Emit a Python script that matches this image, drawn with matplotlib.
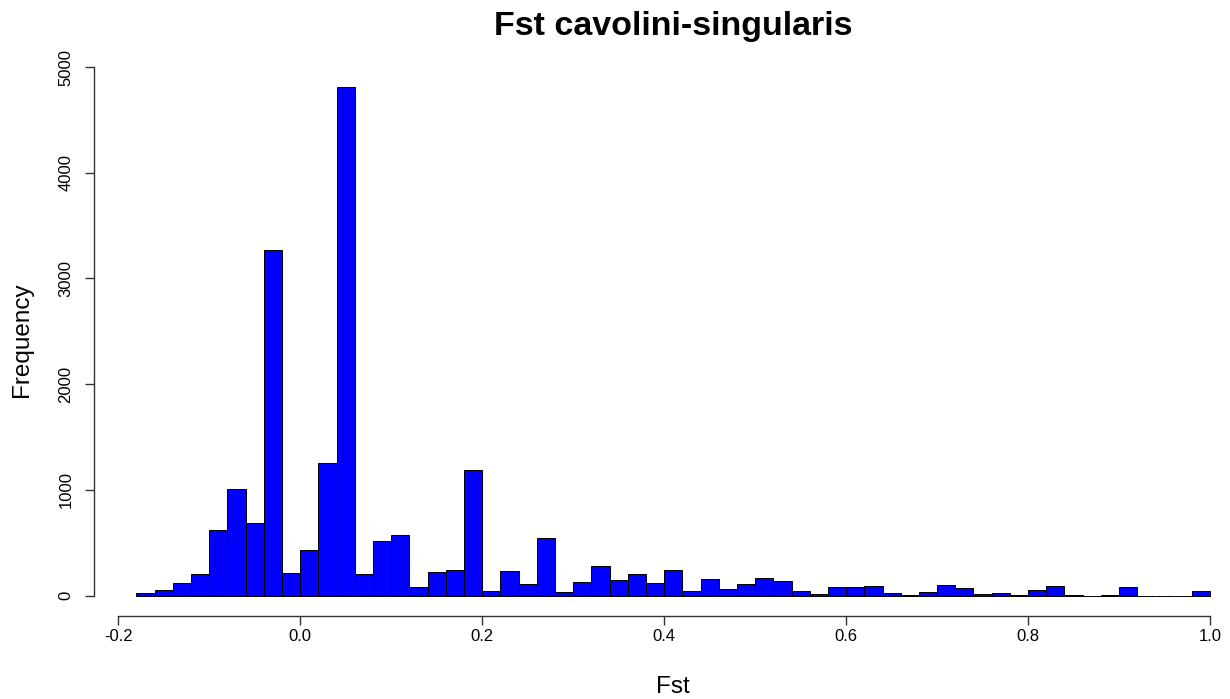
import numpy as np
import matplotlib
matplotlib.use("Agg")
import matplotlib.pyplot as plt

plt.rcParams["font.family"] = ["Liberation Sans", "DejaVu Sans"]

# histogram of Fst values, bins of width 0.02 starting at -0.18
bin_start = -0.18
bin_width = 0.02
counts = [22, 50, 120, 202, 619, 1010, 691, 3267, 211, 433,
          1253, 4811, 202, 514, 571, 82, 221, 246, 1190, 44,
          234, 114, 546, 38, 126, 278, 148, 202, 123, 240,
          48, 155, 63, 114, 167, 139, 41, 16, 85, 79,
          95, 25, 8, 32, 98, 76, 12, 25, 3, 57,
          92, 2, 1, 2, 82, 0, 0, 1, 44]
x_ticks = [-0.2, 0.0, 0.2, 0.4, 0.6, 0.8, 1.0]
x_tick_labels = ["-0.2", "0.0", "0.2", "0.4", "0.6", "0.8", "1.0"]
y_ticks = [0, 1000, 2000, 3000, 4000, 5000]

lefts = bin_start + bin_width * np.arange(len(counts))

W, H = 1230, 699
fig = plt.figure(figsize=(W / 100, H / 100), dpi=100)
# R-like plot region (extends a little past right edge of the image)
ax_l, ax_r, ax_t, ax_b = 93.5, 1253, 66.6, 616
ax = fig.add_axes([ax_l / W, 1 - ax_b / H, (ax_r - ax_l) / W, (ax_b - ax_t) / H])

ax.bar(lefts, counts, width=bin_width, align="edge",
       color="#0000ff", edgecolor="black", linewidth=0.7)

ax.set_xlim(-0.2272, 1.0472)
ax.set_ylim(-192.4, 5003.8)

for s in ["top", "right"]:
    ax.spines[s].set_visible(False)
ax.spines["left"].set_bounds(0, 5000)
ax.spines["bottom"].set_bounds(-0.2, 1.0)
for s in ["left", "bottom"]:
    ax.spines[s].set_color("#333333")
    ax.spines[s].set_linewidth(1.0)

ax.set_xticks(x_ticks)
ax.set_xticklabels(x_tick_labels)
ax.set_yticks(y_ticks)
ax.set_yticklabels([str(v) for v in y_ticks], rotation=90, va="center")
ax.tick_params(axis="both", direction="out", length=6.5, width=1.0,
               color="#333333", labelsize=12)
ax.tick_params(axis="x", pad=3)
ax.tick_params(axis="y", pad=8)

fig.text(673 / W, 1 - 35 / H, "Fst cavolini-singularis", ha="center", va="baseline",
         fontsize=24.5, fontweight="bold")
fig.text(673 / W, 1 - 693 / H, "Fst", ha="center", va="baseline", fontsize=17.5)
fig.text(22 / W, 1 - 340 / H, "Frequency", ha="center", va="center",
         rotation=90, fontsize=17.5)

fig.savefig("out.png", dpi=100)
